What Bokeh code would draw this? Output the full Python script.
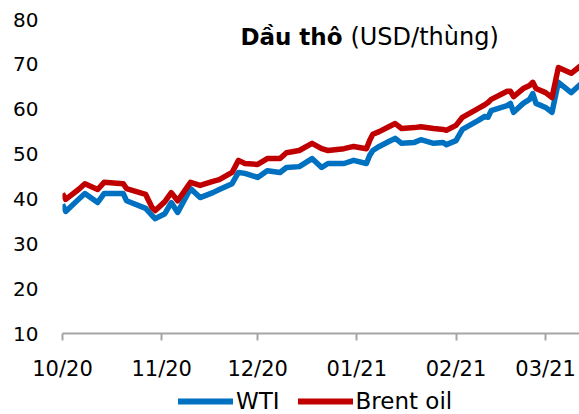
import pandas as pd
from bokeh.plotting import figure
from bokeh.layouts import column
from bokeh.models import Range1d, FixedTicker, Legend, LegendItem, Label
from bokeh.embed import file_html
from bokeh.resources import INLINE

# ---- data ----
dates = ["2020-10-01", "2020-10-02", "2020-10-06", "2020-10-08", "2020-10-12", "2020-10-14",
         "2020-10-20", "2020-10-21", "2020-10-27", "2020-10-29", "2020-10-30", "2020-11-02",
         "2020-11-04", "2020-11-06", "2020-11-10", "2020-11-13", "2020-11-17", "2020-11-19",
         "2020-11-23", "2020-11-25", "2020-11-27", "2020-12-01", "2020-12-04", "2020-12-08",
         "2020-12-10", "2020-12-14", "2020-12-18", "2020-12-21", "2020-12-23", "2020-12-28",
         "2020-12-31", "2021-01-04", "2021-01-05", "2021-01-06", "2021-01-08", "2021-01-11",
         "2021-01-13", "2021-01-15", "2021-01-19", "2021-01-21", "2021-01-25", "2021-01-28",
         "2021-01-29", "2021-02-01", "2021-02-03", "2021-02-08", "2021-02-10", "2021-02-11",
         "2021-02-12", "2021-02-17", "2021-02-18", "2021-02-19", "2021-02-22", "2021-02-24",
         "2021-02-25", "2021-02-26", "2021-03-01", "2021-03-03", "2021-03-05", "2021-03-09",
         "2021-03-12"]

wti = [38.8, 37.2, 39.9, 41.2, 39.2, 41.2, 41.2, 39.6, 37.9, 36.3, 35.6, 36.7, 39.2, 37.0,
       42.3, 40.3, 41.4, 42.1, 43.4, 45.9, 45.7, 44.8, 46.3, 45.9, 47.0, 47.2, 49.0, 47.0,
       47.9, 47.9, 48.6, 47.9, 49.7, 50.8, 51.7, 52.8, 53.5, 52.4, 52.6, 53.2, 52.4, 52.6,
       52.1, 53.0, 55.5, 57.5, 58.4, 58.2, 59.7, 60.8, 61.3, 59.3, 61.3, 62.2, 63.5, 61.3,
       60.4, 59.3, 66.0, 63.7, 65.6]

brent = [41.2, 39.9, 42.1, 43.4, 42.1, 43.7, 43.4, 42.3, 41.0, 38.1, 37.4, 39.4, 41.4, 39.6,
         43.7, 43.0, 43.9, 44.3, 45.9, 48.6, 47.9, 47.7, 49.0, 49.0, 50.3, 50.8, 52.4, 51.2,
         50.8, 51.2, 51.7, 51.2, 53.0, 54.4, 55.0, 56.1, 56.8, 55.7, 55.9, 56.1, 55.7, 55.5,
         55.3, 56.4, 58.2, 60.2, 61.0, 61.5, 62.2, 64.0, 64.0, 62.8, 64.6, 65.3, 66.0, 64.6,
         63.7, 62.6, 69.3, 68.0, 69.7]

tick_dates = ["2020-10-01", "2020-11-01", "2020-12-01", "2021-01-01", "2021-02-01", "2021-03-01"]
tick_labels = ["10/20", "11/20", "12/20", "01/21", "02/21", "03/21"]
y_ticks = [10, 20, 30, 40, 50, 60, 70, 80]

series_names = ["WTI", "Brent oil"]
series_colors = ["#0070C0", "#C00000"]
title_bold = "Dầu thô"
title_unit = "(USD/thùng)"

# ---- chart ----
DAY = 86400000.0


def ms(s):
    return pd.Timestamp(s).value / 1e6


x = pd.to_datetime(dates)
x_start = ms("2020-10-01")
x_end = x_start + 161.6 * DAY

FONT = "DejaVu Sans"
LW = 5.5

p = figure(width=579, height=388, x_axis_type="datetime",
           x_range=Range1d(x_start, x_end), y_range=Range1d(10, 80),
           output_backend="svg", toolbar_location=None,
           min_border_left=62, min_border_right=0, min_border_top=19, min_border_bottom=55)

p.outline_line_color = None
p.xgrid.grid_line_color = None
p.ygrid.grid_line_color = None
p.background_fill_color = "white"
p.border_fill_color = "white"

p.line(x, wti, line_color=series_colors[0], line_width=LW, line_join="round")
p.line(x, brent, line_color=series_colors[1], line_width=LW, line_join="round")

# x axis
tick_ms = [ms(d) for d in tick_dates]
p.xaxis.ticker = FixedTicker(ticks=tick_ms)
p.xaxis.major_label_overrides = {t: lab for t, lab in zip(tick_ms, tick_labels)}
p.xaxis.axis_line_color = "#A6A6A6"
p.xaxis.axis_line_width = 2
p.xaxis.major_tick_line_color = "#A6A6A6"
p.xaxis.major_tick_line_width = 2
p.xaxis.major_tick_out = 7
p.xaxis.major_tick_in = 0
p.xaxis.minor_tick_line_color = None
p.xaxis.major_label_standoff = 16
p.xaxis.major_label_text_font = FONT
p.xaxis.major_label_text_font_size = "21px"
p.xaxis.major_label_text_color = "#000000"

# y axis
p.yaxis.ticker = FixedTicker(ticks=y_ticks)
p.yaxis.axis_line_color = None
p.yaxis.major_tick_line_color = None
p.yaxis.minor_tick_line_color = None
p.yaxis.major_tick_out = 0
p.yaxis.major_tick_in = 0
p.yaxis.major_label_standoff = 24
p.yaxis.major_label_text_font = FONT
p.yaxis.major_label_text_font_size = "20px"
p.yaxis.major_label_text_color = "#000000"

# title (two parts: bold + normal)
p.add_layout(Label(x=x_start + 55.6 * DAY, y=76.1, text=title_bold,
                   text_font=FONT, text_font_style="bold", text_font_size="23px",
                   text_baseline="middle", text_color="#000000"))
p.add_layout(Label(x=x_start + 90.0 * DAY, y=76.1, text=title_unit,
                   text_font=FONT, text_font_size="24px",
                   text_baseline="middle", text_color="#000000"))

# ---- legend strip under the chart ----
# (the series are drawn here too, but far outside this strip's ranges,
#  so only their legend glyphs are visible)
lg = figure(width=579, height=26, x_range=Range1d(0, 1), y_range=Range1d(0, 1),
            output_backend="svg", toolbar_location=None,
            min_border=0, min_border_left=0, min_border_right=0,
            min_border_top=0, min_border_bottom=0)
lg.outline_line_color = None
lg.xaxis.visible = False
lg.yaxis.visible = False
lg.xgrid.grid_line_color = None
lg.ygrid.grid_line_color = None
lg.border_fill_color = "white"
lg.background_fill_color = "white"

items = []
for name, col, vals in zip(series_names, series_colors, [wti, brent]):
    r = lg.line(x, vals, line_color=col, line_width=6, line_cap="round")
    items.append(LegendItem(label=name, renderers=[r]))

legend = Legend(items=items, orientation="horizontal", location=(116, 0),
                border_line_color=None, background_fill_alpha=0,
                padding=0, margin=0, spacing=18,
                glyph_width=55, glyph_height=26, label_height=26, label_standoff=3,
                label_text_font=FONT, label_text_font_size="23px",
                label_text_color="#000000")
lg.add_layout(legend)

layout = column(p, lg, spacing=0)
open("out.html", "w").write(file_html(layout, INLINE))
